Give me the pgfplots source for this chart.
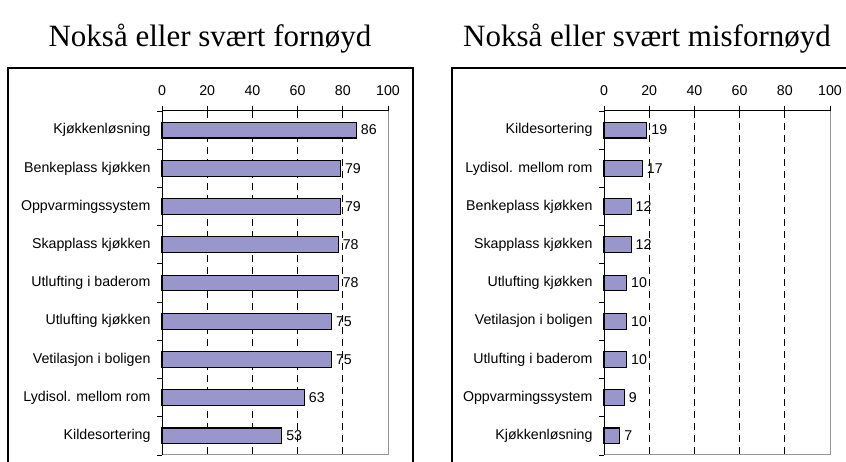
\documentclass[border=0pt]{standalone}
\usepackage{fontspec}
\setmainfont{Liberation Sans}
\newfontfamily\titlefont{Liberation Serif}
\usepackage{pgfplots}
\pgfplotsset{compat=1.18}
\definecolor{barfill}{RGB}{152,150,202}
\definecolor{bordergray}{RGB}{150,150,150}

\pgfplotsset{
  panel/.style={
    xbar, scale only axis, width=226pt, height=344pt, anchor=south west,
    xmin=0, xmax=100, ymin=0.5, ymax=9.5, y dir=reverse,
    xtick={0,20,...,100}, xtick pos=right, xticklabel pos=right,
    ytick={1,...,9}, ytick pos=left,
    minor ytick={0.5,1.5,...,9.5},
    major y tick style={draw=none},
    minor tick length=5pt, major tick length=10pt, tick align=center,
    minor y tick style={xshift=-2.5pt},
    tick style={black, line width=0.8pt},
    axis line style={draw=none},
    xmajorgrids,
    grid style={black, line width=0.8pt, dash pattern=on 7pt off 5pt},
    bar width=15.7pt,
    nodes near coords,
    nodes near coords style={anchor=west, inner sep=2pt, xshift=2pt, black,
      font=\fontsize{14.2}{16}\selectfont},
    ticklabel style={font=\fontsize{14.2}{16}\selectfont},
    xticklabel style={yshift=7pt},
    yticklabel style={xshift=-3pt},
    /pgf/number format/assume math mode=true,
    clip=false,
  },
  panelbar/.style={draw=black, line width=1.1pt, fill=barfill},
}

\begin{document}
\begin{tikzpicture}[x=1pt, y=1pt]
\useasboundingbox (0pt,0pt) rectangle (846pt,462pt);

% frames
\draw[line width=1.3pt] (8pt,0pt) -- (8pt,394pt) -- (413pt,394pt) -- (413pt,0pt);
\draw[line width=1.3pt] (452pt,0pt) -- (452pt,394pt) -- (846pt,394pt);

% titles
\node[font=\titlefont\fontsize{31}{35}\selectfont] at (210pt,423pt) {Nokså eller svært fornøyd};
\node[font=\titlefont\fontsize{31}{35}\selectfont] at (647pt,423pt) {Nokså eller svært misfornøyd};

% left: fornøyd
\begin{axis}[panel, at={(162pt,7pt)},
  yticklabels={Kjøkkenløsning, Benkeplass kjøkken, Oppvarmingssystem,
    Skapplass kjøkken, Utlufting i baderom, Utlufting kjøkken,
    Vetilasjon i boligen, Lydisol. mellom rom, Kildesortering}]
\addplot[panelbar] coordinates {
  (86,1) (79,2) (79,3) (78,4) (78,5) (75,6) (75,7) (63,8) (53,9)
};
\draw[bordergray, line width=1pt] (axis cs:100,0.5) -- (axis cs:100,9.5) -- (axis cs:0,9.5);
\draw[black, line width=1pt] (axis cs:0,9.5) -- (axis cs:0,0.5) -- (axis cs:100,0.5);
\end{axis}

% right: misfornøyd
\begin{axis}[panel, at={(604pt,7pt)},
  yticklabels={Kildesortering, Lydisol. mellom rom, Benkeplass kjøkken,
    Skapplass kjøkken, Utlufting kjøkken, Vetilasjon i boligen,
    Utlufting i baderom, Oppvarmingssystem, Kjøkkenløsning}]
\addplot[panelbar] coordinates {
  (19,1) (17,2) (12,3) (12,4) (10,5) (10,6) (10,7) (9,8) (7,9)
};
\draw[bordergray, line width=1pt] (axis cs:100,0.5) -- (axis cs:100,9.5) -- (axis cs:0,9.5);
\draw[black, line width=1pt] (axis cs:0,9.5) -- (axis cs:0,0.5) -- (axis cs:100,0.5);
\end{axis}
\end{tikzpicture}
\end{document}
